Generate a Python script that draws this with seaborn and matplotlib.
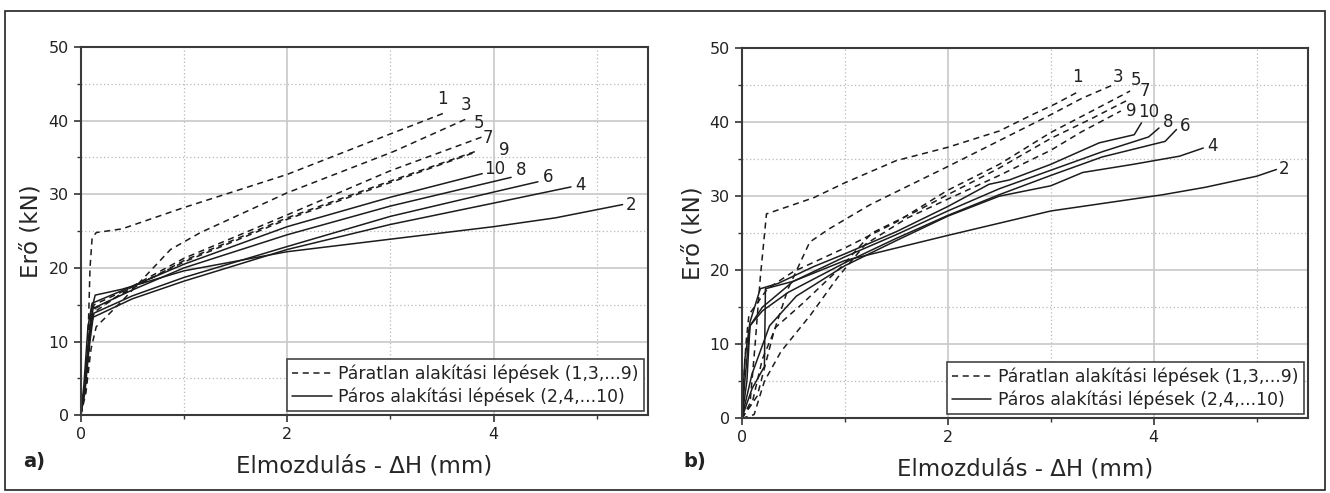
import pandas as pd
import seaborn as sns
import matplotlib.pyplot as plt
from matplotlib.lines import Line2D
from matplotlib.patches import Rectangle

# ---- data (displacement in mm, force in kN) ----
# panel a)
a1_x = [0, 0.04, 0.07, 0.09, 0.11, 0.15, 0.4, 1.0, 2.0, 3.0, 3.55]
a1_y = [0, 3, 10, 20, 24, 24.8, 25.3, 28.2, 32.7, 38.2, 41.2]
a3_x = [0, 0.05, 0.1, 0.15, 0.4, 0.87, 1.16, 2.0, 3.03, 3.73]
a3_y = [0, 3, 9, 12, 15.5, 22.5, 24.8, 30.2, 35.8, 40.2]
a5_x = [0, 0.06, 0.1, 0.13, 0.5, 1.0, 2.0, 3.0, 3.91]
a5_y = [0, 5, 12, 14, 17.5, 21.3, 27.2, 33.2, 37.9]
a7_x = [0, 0.06, 0.1, 0.14, 0.5, 1.0, 2.0, 3.0, 3.84]
a7_y = [0, 5, 12.5, 14.5, 17.2, 21.0, 26.8, 31.8, 35.9]
a9_x = [0, 0.05, 0.09, 0.13, 0.5, 1.0, 2.0, 3.0, 3.8]
a9_y = [0, 4, 13, 15, 17.4, 20.8, 26.6, 31.6, 35.6]
a2_x = [0, 0.05, 0.1, 0.14, 0.4, 1.0, 2.0, 3.0, 4.0, 4.6, 5.25]
a2_y = [0, 5, 14, 16.3, 17.1, 19.6, 22.2, 23.9, 25.6, 26.8, 28.6]
a4_x = [0, 0.04, 0.08, 0.12, 0.5, 1.0, 2.0, 3.0, 4.0, 4.75]
a4_y = [0, 3, 9, 13.3, 15.8, 18.2, 22.5, 25.9, 28.8, 31.0]
a6_x = [0, 0.04, 0.08, 0.12, 0.5, 1.0, 2.0, 3.0, 4.0, 4.43]
a6_y = [0, 4, 10, 13.8, 16.2, 18.7, 22.9, 27.0, 30.3, 31.7]
a8_x = [0, 0.04, 0.08, 0.12, 0.5, 1.0, 2.0, 3.0, 4.17]
a8_y = [0, 4, 11, 14.5, 17.0, 20.0, 24.5, 28.4, 32.3]
a10_x = [0, 0.03, 0.07, 0.11, 0.5, 1.0, 2.0, 3.0, 3.89]
a10_y = [0, 4, 12, 15.2, 17.5, 20.5, 25.6, 29.6, 32.8]

# panel b)
b1_x = [0, 0.08, 0.13, 0.18, 0.24, 0.7, 1.0, 1.5, 2.0, 2.5, 2.82, 3.05, 3.28]
b1_y = [0, 2, 10, 19, 27.6, 29.8, 31.8, 34.8, 36.6, 38.8, 41.0, 42.5, 44.2]
b3_x = [0, 0.15, 0.31, 0.45, 0.66, 0.85, 1.24, 1.56, 2.0, 2.5, 3.0, 3.3, 3.6]
b3_y = [0, 3, 11.6, 17.5, 23.8, 25.6, 28.8, 31.0, 34.0, 37.5, 41.0, 43.2, 45.0]
b5_x = [0, 0.04, 0.07, 0.25, 0.5, 1.0, 1.5, 2.0, 2.5, 3.0, 3.4, 3.77]
b5_y = [0, 10, 14, 17.5, 19.8, 23.0, 26.5, 30.8, 34.3, 38.6, 41.5, 44.2]
b7_x = [0, 0.1, 0.2, 0.33, 0.59, 0.97, 1.26, 1.7, 2.0, 2.5, 3.0, 3.4, 3.75]
b7_y = [0, 2, 8, 12.3, 15.5, 20.5, 25, 28, 30.2, 33.8, 37.8, 40.5, 43.0]
b9_x = [0, 0.12, 0.22, 0.38, 0.67, 0.93, 1.2, 1.6, 2.0, 2.5, 3.0, 3.3, 3.68]
b9_y = [0, 0.5, 5, 9, 14, 19, 23.5, 27, 29.6, 32.8, 36.2, 38.7, 41.5]
b2_x = [0, 0.03, 0.08, 0.2, 0.5, 1.0, 1.5, 2.0, 3.0, 4.09, 4.5, 5.0, 5.19]
b2_y = [0, 5, 12.5, 15, 18.5, 21.3, 23, 24.7, 28.0, 30.2, 31.2, 32.7, 33.6]
b4_x = [0, 0.1, 0.27, 0.53, 1.0, 1.5, 2.0, 2.5, 3.0, 3.31, 3.8, 4.25, 4.48]
b4_y = [0, 6, 12.5, 16.5, 20.6, 24, 27.3, 30, 31.4, 33.2, 34.3, 35.4, 36.5]
b6_x = [0, 0.05, 0.08, 0.2, 0.45, 1.0, 1.5, 2.0, 2.5, 3.0, 3.5, 4.11, 4.22]
b6_y = [0, 5, 12.5, 14.5, 17, 21, 24.3, 27.4, 30.2, 32.8, 35.3, 37.4, 39.0]
b8_x = [0, 0.1, 0.22, 0.23, 0.5, 1.0, 1.5, 2.0, 2.5, 3.0, 3.5, 3.95, 4.05]
b8_y = [0, 4, 7, 17.5, 18.5, 21.8, 24.8, 28.0, 31.0, 33.5, 36.0, 38.0, 39.2]
b10_x = [0, 0.03, 0.08, 0.18, 0.35, 0.7, 1.0, 1.5, 2.0, 2.4, 2.6, 3.0, 3.47, 3.81, 3.88]
b10_y = [0, 8, 13, 17.5, 18.2, 20.5, 22.2, 25.2, 28.6, 31.6, 32.2, 34.3, 37.2, 38.3, 39.9]

a_curves = [(1, a1_x, a1_y), (3, a3_x, a3_y), (5, a5_x, a5_y), (7, a7_x, a7_y),
            (9, a9_x, a9_y), (2, a2_x, a2_y), (4, a4_x, a4_y), (6, a6_x, a6_y),
            (8, a8_x, a8_y), (10, a10_x, a10_y)]
b_curves = [(1, b1_x, b1_y), (3, b3_x, b3_y), (5, b5_x, b5_y), (7, b7_x, b7_y),
            (9, b9_x, b9_y), (2, b2_x, b2_y), (4, b4_x, b4_y), (6, b6_x, b6_y),
            (8, b8_x, b8_y), (10, b10_x, b10_y)]

legend_labels = ['Páratlan alakítási lépések (1,3,...9)',
                 'Páros alakítási lépések (2,4,...10)']

# label offsets next to the curve ends (pixels, right / up)
a_label_off = {1: (-5, 13), 3: (0, 14), 5: (-5, 13), 7: (11, 13), 9: (31, 3),
               10: (12, 5), 8: (10, 7), 6: (10, 5), 4: (10, 2), 2: (8, 0)}
b_label_off = {1: (-2, 14), 3: (5, 8), 5: (6, 11), 7: (17, 9), 9: (10, 0),
               10: (7, 11), 8: (9, 6), 6: (9, 4), 4: (9, 2), 2: (8, 1)}


def to_frame(curves):
    rows = []
    for step, xs, ys in curves:
        parity = 'odd' if step % 2 else 'even'
        for x, y in zip(xs, ys):
            rows.append({'step': step, 'parity': parity, 'x': x, 'y': y})
    return pd.DataFrame(rows)


sns.set_style('ticks')
plt.rcParams['font.family'] = ['DejaVu Sans']
plt.rcParams['text.color'] = '#222222'

ink = '#1c1c1c'
fig = plt.figure(figsize=(13.3, 4.93), dpi=100)
ax_a = fig.add_axes([0.0607, 0.158, 0.4268, 0.7465])
ax_b = fig.add_axes([0.5577, 0.1515, 0.4260, 0.7510])

for ax, curves, offs in [(ax_a, a_curves, a_label_off), (ax_b, b_curves, b_label_off)]:
    df = to_frame(curves)
    sns.lineplot(data=df, x='x', y='y', units='step', estimator=None, sort=False,
                 style='parity', style_order=['odd', 'even'],
                 dashes={'odd': (4, 3), 'even': ''},
                 color=ink, lw=1.1, legend=False, ax=ax)

    # curve numbers at the end of each line
    for step, xs, ys in curves:
        ax.annotate(str(step), xy=(xs[-1], ys[-1]), xytext=offs[step],
                    textcoords='offset pixels', ha='center', va='center',
                    fontsize=12, color='#222222')

    ax.set_xlim(0, 5.5)
    ax.set_ylim(0, 50)
    ax.set_xticks([0, 2, 4])
    ax.set_xticks([1, 3, 5], minor=True)
    ax.set_yticks([0, 10, 20, 30, 40, 50])
    ax.set_yticks([5, 15, 25, 35, 45], minor=True)
    ax.grid(which='major', color='#c8c8c8', lw=1.2)
    ax.grid(which='minor', color='#b8b8b8', lw=0.9, ls=(0, (1, 2)))
    ax.set_axisbelow(True)
    ax.tick_params(which='major', direction='out', length=5, width=1.2,
                   color='#333333', labelsize=11.5, labelcolor='#222222')
    ax.tick_params(which='minor', direction='out', length=3, width=1.0, color='#333333')
    for sp in ax.spines.values():
        sp.set_visible(True)
        sp.set_color('#3a3a3a')
        sp.set_linewidth(1.5)

    ax.set_xlabel('Elmozdulás - ΔH (mm)', fontsize=16.5, labelpad=9)
    ax.set_ylabel('Erő (kN)', fontsize=16.5, labelpad=4)

    handles = [Line2D([], [], color=ink, lw=1.1, dashes=(4, 3)),
               Line2D([], [], color=ink, lw=1.1)]
    leg = ax.legend(handles, legend_labels, loc='lower right', fontsize=12.4,
                    frameon=True, fancybox=False, framealpha=1, edgecolor='#444444',
                    handlelength=2.3, handletextpad=0.4, labelspacing=0.25,
                    borderpad=0.3, borderaxespad=0.25)
    leg.get_frame().set_linewidth(1.2)

# panel letters and outer frame
fig.text(0.0173, 0.063, 'a)', fontsize=14, fontweight='bold', va='center')
fig.text(0.514, 0.063, 'b)', fontsize=14, fontweight='bold', va='center')
fig.patches.append(Rectangle((0.0038, 0.006), 0.9925, 0.9717, transform=fig.transFigure,
                             fill=False, ec='#222222', lw=1.2))

fig.savefig('out.png', dpi=100)
